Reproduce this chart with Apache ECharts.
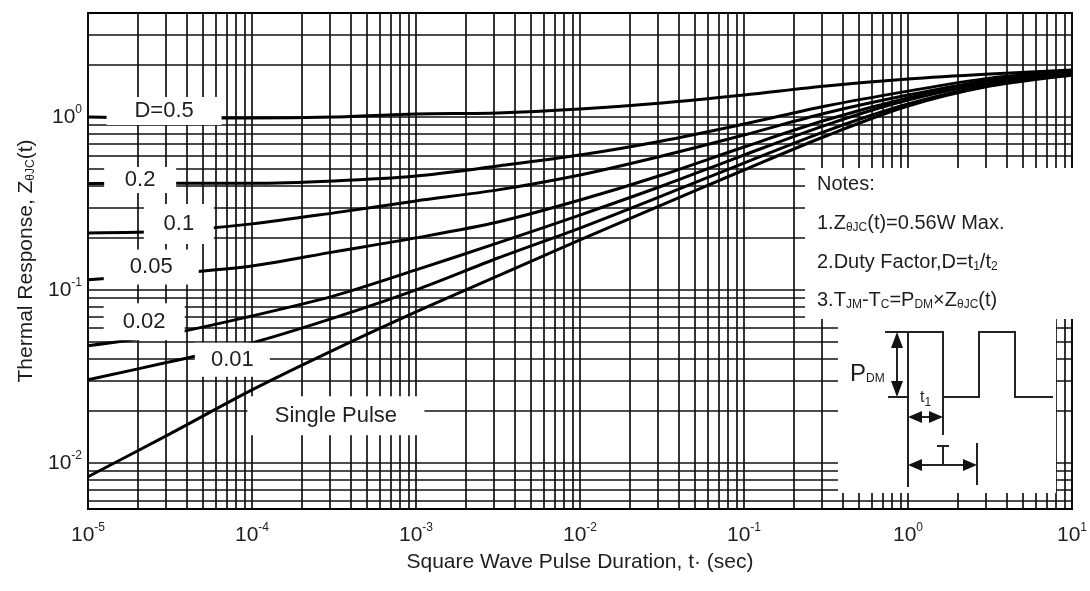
<!DOCTYPE html>
<html><head><meta charset="utf-8">
<script src="https://cdn.jsdelivr.net/npm/echarts@6/dist/echarts.min.js"></script>
<style>html,body{margin:0;padding:0;background:#fff}#c{width:1090px;height:591px}</style>
</head><body><div id="c"></div>
<script>
// ---- data ----
const tValues = [1e-5, 3.16e-5, 1e-4, 3.16e-4, 1e-3, 3.16e-3, 0.01, 0.0316, 0.1, 0.316, 1, 3.16, 10];
const zD05    = [1.000, 0.987, 0.987, 1.000, 1.041, 1.055, 1.112, 1.205, 1.340, 1.511, 1.658, 1.772, 1.869];
const zD02    = [0.412, 0.414, 0.414, 0.427, 0.456, 0.521, 0.603, 0.727, 0.911, 1.158, 1.413, 1.680, 1.845];
const zD01    = [0.2135, 0.219, 0.241, 0.279, 0.327, 0.379, 0.462, 0.595, 0.787, 1.055, 1.340, 1.636, 1.820];
const zD005   = [0.1143, 0.124, 0.1376, 0.166, 0.200, 0.247, 0.331, 0.462, 0.671, 0.961, 1.288, 1.615, 1.796];
const zD002   = [0.0475, 0.0557, 0.0707, 0.0923, 0.1305, 0.187, 0.271, 0.399, 0.603, 0.899, 1.254, 1.572, 1.772];
const zD001   = [0.0302, 0.0384, 0.0494, 0.0689, 0.100, 0.153, 0.228, 0.350, 0.542, 0.830, 1.189, 1.531, 1.772];
const zSingle = [0.0083, 0.0147, 0.0264, 0.0450, 0.0746, 0.1205, 0.1945, 0.310, 0.494, 0.777, 1.158, 1.511, 1.748];

const curveNames  = ['D=0.5', '0.2', '0.1', '0.05', '0.02', '0.01', 'Single Pulse'];
const labelT      = [2.91e-5, 2.08e-5, 3.58e-5, 2.43e-5, 2.2e-5, 7.59e-5, 3.25e-4];
const labelZ      = [1.083, 0.432, 0.2407, 0.1358, 0.0655, 0.0394, 0.0187];

const xTickExps = [-5, -4, -3, -2, -1, 0, 1];
const yTickExps = [0, -1, -2];
const xMin = 1e-5, xMax = 10, yMin = 0.0054, yMax = 4.0;

// ---- styling ----
const FONT = 'Liberation Sans, Arial, Helvetica, sans-serif';
const TXT = '#1e1e1e';
const labelBoxes = [[115, 28], [72, 26], [70, 40], [95, 35], [81, 37], [75, 34], [177, 39]];

const curves = [zD05, zD02, zD01, zD005, zD002, zD001, zSingle];

function powLabel(v, exps) {
  const e = Math.log10(v);
  const r = Math.round(e);
  if (Math.abs(e - r) > 1e-6 || exps.indexOf(r) < 0) return '';
  return '{b|10}{s|' + (r < 0 ? '-' + (-r) : r) + '}';
}

// grid line values (1..9 x 10^k)
const vLines = [], hLines = [];
for (let k = -5; k <= 1; k++) for (let m = 1; m <= 9; m++) {
  const v = m * Math.pow(10, k);
  if (v >= xMin * 0.999 && v <= xMax * 1.001) vLines.push(v);
}
for (let k = -3; k <= 0; k++) for (let m = 1; m <= 9; m++) {
  const v = m * Math.pow(10, k);
  if (v > yMin && v < yMax) hLines.push(v);
}

const gridLineStyle = {color: '#111', width: 1.7, type: 'solid', opacity: 1};
const series = [
  {type: 'lines', name: 'grid', coordinateSystem: 'cartesian2d', z: 1, silent: true, polyline: false,
   lineStyle: gridLineStyle, effect: {show: false},
   data: vLines.map(v => ({coords: [[v, yMin], [v, yMax]]}))
     .concat(hLines.map(v => ({coords: [[xMin, v], [xMax, v]]})))}
];
curves.forEach((arr, i) => {
  series.push({
    type: 'line', name: curveNames[i], z: 3, silent: true, symbol: 'none', smooth: 0.3,
    lineStyle: {color: '#000', width: 3},
    data: tValues.map((t, j) => [t, arr[j]])
  });
});
series.push({
  type: 'scatter', name: 'labels', z: 10, silent: true, symbol: 'rect',
  itemStyle: {color: '#fff', opacity: 1},
  label: {show: true, position: 'inside', fontSize: 22, fontFamily: FONT, color: TXT,
    formatter: p => p.name},
  labelLayout: {hideOverlap: false},
  emphasis: {disabled: true},
  data: curveNames.map((n, i) => ({name: n, value: [labelT[i], labelZ[i]], symbolSize: labelBoxes[i]}))
});

const subR = {fontSize: 12, fontFamily: FONT, fill: TXT, padding: [10, 0, 0, 0]};
const ln = (pts, w) => ({type: 'polyline', z: 101, silent: true, shape: {points: pts}, style: {stroke: '#222', lineWidth: w || 2, fill: null}});
const tri = (pts) => ({type: 'polygon', z: 101, silent: true, shape: {points: pts}, style: {fill: '#111'}});
const txt = (x, y, text, size, align) => ({type: 'text', z: 102, silent: true, x: x, y: y,
  style: {text: text, fontSize: size, fontFamily: FONT, fill: TXT, align: align || 'left', verticalAlign: 'middle',
    rich: {n: {fontSize: size, fontFamily: FONT, fill: TXT}, s: subR}}});

const graphic = [
  {type: 'rect', z: 100, silent: true, shape: {x: 805, y: 168, width: 277, height: 151}, style: {fill: '#fff'}},
  {type: 'rect', z: 100, silent: true, shape: {x: 838, y: 318, width: 218, height: 175}, style: {fill: '#fff'}},
  txt(817, 184, 'Notes:', 20),
  txt(817, 223, '{n|1.Z}{s|θJC}{n|(t)=0.56W Max.}', 20),
  txt(817, 262, '{n|2.Duty Factor,D=t}{s|1}{n|/t}{s|2}', 20),
  txt(817, 300, '{n|3.T}{s|JM}{n|-T}{s|C}{n|=P}{s|DM}{n|×Z}{s|θJC}{n|(t)}', 20),
  // pulse waveform
  ln([[908, 487], [908, 332], [943, 332], [943, 397], [979, 397], [979, 332], [1015, 332], [1015, 397], [1053, 397]]),
  ln([[943, 397], [943, 435]]),
  ln([[885, 332], [908, 332]]),
  ln([[888, 397], [908, 397]]),
  ln([[977, 443], [977, 485]]),
  // P_DM arrow
  ln([[897, 340], [897, 389]]),
  tri([[897, 332], [891, 348], [903, 348]]),
  tri([[897, 397], [891, 381], [903, 381]]),
  // t1 arrow
  ln([[914, 417], [937, 417]]),
  tri([[908, 417], [922, 411], [922, 423]]),
  tri([[943, 417], [929, 411], [929, 423]]),
  // T arrow
  ln([[914, 465], [971, 465]]),
  tri([[908, 465], [922, 459], [922, 471]]),
  tri([[977, 465], [963, 459], [963, 471]]),
  ln([[943, 446], [943, 465]]),
  ln([[937, 446], [949, 446]]),
  txt(850, 374, '{n|P}{s|DM}', 24),
  txt(920, 398, '{n|t}{s|1}', 16)
];

const option = {
  animation: false,
  backgroundColor: '#fff',
  grid: {left: 88, right: 6, top: 13, bottom: 82, show: true, borderColor: '#000', borderWidth: 2, backgroundColor: '#fff'},
  xAxis: {
    type: 'log', logBase: 10, min: xMin, max: xMax,
    axisLine: {show: true, lineStyle: {color: '#000', width: 2}},
    axisTick: {show: false}, splitLine: {show: false},
    axisLabel: {margin: 13, color: TXT, fontFamily: FONT,
      formatter: v => powLabel(v, xTickExps),
      rich: {b: {fontSize: 21, fontFamily: FONT, color: TXT}, s: {fontSize: 12, fontFamily: FONT, color: TXT, padding: [0, 0, 14, 0]}}},
    name: 'Square Wave Pulse Duration, t· (sec)', nameLocation: 'middle', nameGap: 43,
    nameTextStyle: {fontSize: 21, color: TXT, fontFamily: FONT}
  },
  yAxis: {
    type: 'log', logBase: 10, min: yMin, max: yMax,
    axisLine: {show: true, lineStyle: {color: '#000', width: 2}},
    axisTick: {show: false}, splitLine: {show: false},
    axisLabel: {margin: 6, color: TXT, fontFamily: FONT,
      formatter: v => powLabel(v, yTickExps),
      rich: {b: {fontSize: 21, fontFamily: FONT, color: TXT}, s: {fontSize: 12, fontFamily: FONT, color: TXT, padding: [0, 0, 14, 0]}}},
    name: '{n|Thermal Response, Z}{s|θJC}{n|(t)}', nameLocation: 'middle', nameGap: 48, nameRotate: 90,
    nameTextStyle: {fontSize: 21, color: TXT, fontFamily: FONT,
      rich: {n: {fontSize: 21, color: TXT, fontFamily: FONT}, s: {fontSize: 12, color: TXT, fontFamily: FONT, padding: [10, 0, 0, 0]}}}
  },
  series: series,
  graphic: graphic
};

const chart = echarts.init(document.getElementById('c'), null, {renderer: 'canvas'});
chart.setOption(option);
</script>
</body></html>
